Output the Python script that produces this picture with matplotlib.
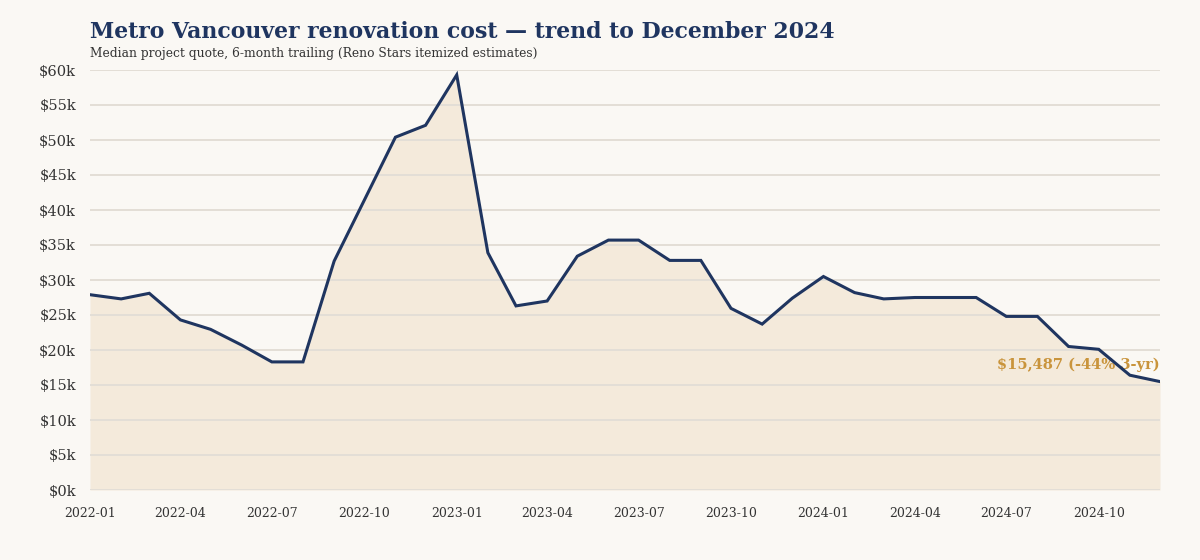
import matplotlib
matplotlib.use("Agg")
import matplotlib.pyplot as plt
import matplotlib.dates as mdates
import pandas as pd
import numpy as np

months = pd.date_range("2022-01-01", "2024-12-01", freq="MS")
median_quote = [
    27.9, 27.3, 28.1, 24.3, 22.95, 20.7, 18.3, 18.3, 32.7, 41.4, 50.4, 52.1,
    59.3, 33.9, 26.3, 27.0, 33.4, 35.7, 35.7, 32.8, 32.8, 25.95, 23.7, 27.4,
    30.5, 28.2, 27.3, 27.5, 27.5, 27.5, 24.8, 24.8, 20.5, 20.1, 16.4, 15.487,
]
values = np.array(median_quote) * 1000
y_ticks = list(range(0, 60001, 5000))
y_tick_labels = [f"${v // 1000}k" for v in y_ticks]
title = "Metro Vancouver renovation cost — trend to December 2024"
subtitle = "Median project quote, 6-month trailing (Reno Stars itemized estimates)"
annotation = "$15,487 (-44% 3-yr)"

BG = "#faf8f4"
NAVY = "#1f3560"
FILL = "#f4eadb"
GRID = "#e3ded6"
GOLD = "#c9943c"
SERIF = "DejaVu Serif"

fig = plt.figure(figsize=(12, 5.6), dpi=100, facecolor=BG)
ax = fig.add_axes([90 / 1200, 1 - 490 / 560, (1160 - 90) / 1200, 420 / 560])
ax.set_facecolor(BG)

ax.fill_between(months, values, 0, color=FILL, zorder=1, linewidth=0)
ax.plot(months, values, color=NAVY, linewidth=2.2, zorder=4, solid_joinstyle="miter")

ax.set_xlim(months[0], months[-1])
ax.set_ylim(0, 60000)
ax.set_yticks(y_ticks)
ax.set_yticklabels(y_tick_labels, fontsize=10.5, color="#333333", family=SERIF)
ax.yaxis.grid(True, color=GRID, linewidth=1.4)
for gl in ax.get_ygridlines():
    gl.set_zorder(2)

ax.xaxis.set_major_locator(mdates.MonthLocator(bymonth=[1, 4, 7, 10]))
ax.xaxis.set_major_formatter(mdates.DateFormatter("%Y-%m"))
for lab in ax.get_xticklabels():
    lab.set_fontsize(9)
    lab.set_color("#333333")
    lab.set_family(SERIF)
ax.tick_params(axis="both", length=0)
ax.tick_params(axis="x", pad=12)
ax.tick_params(axis="y", pad=10)
for s in ax.spines.values():
    s.set_visible(False)

ax.annotate(annotation, xy=(months[-1], values[-1]), xytext=(0, 7),
            textcoords="offset points", ha="right", va="bottom",
            color=GOLD, fontsize=10.5, fontweight="bold", family=SERIF, zorder=3)

fig.text(90 / 1200, 1 - 38 / 560, title, fontsize=15.8, fontweight="bold",
         color=NAVY, family=SERIF, ha="left", va="baseline")
fig.text(90 / 1200, 1 - 57 / 560, subtitle, fontsize=8.8,
         color="#333333", family=SERIF, ha="left", va="baseline")

fig.savefig("out.png", dpi=100, facecolor=BG)
